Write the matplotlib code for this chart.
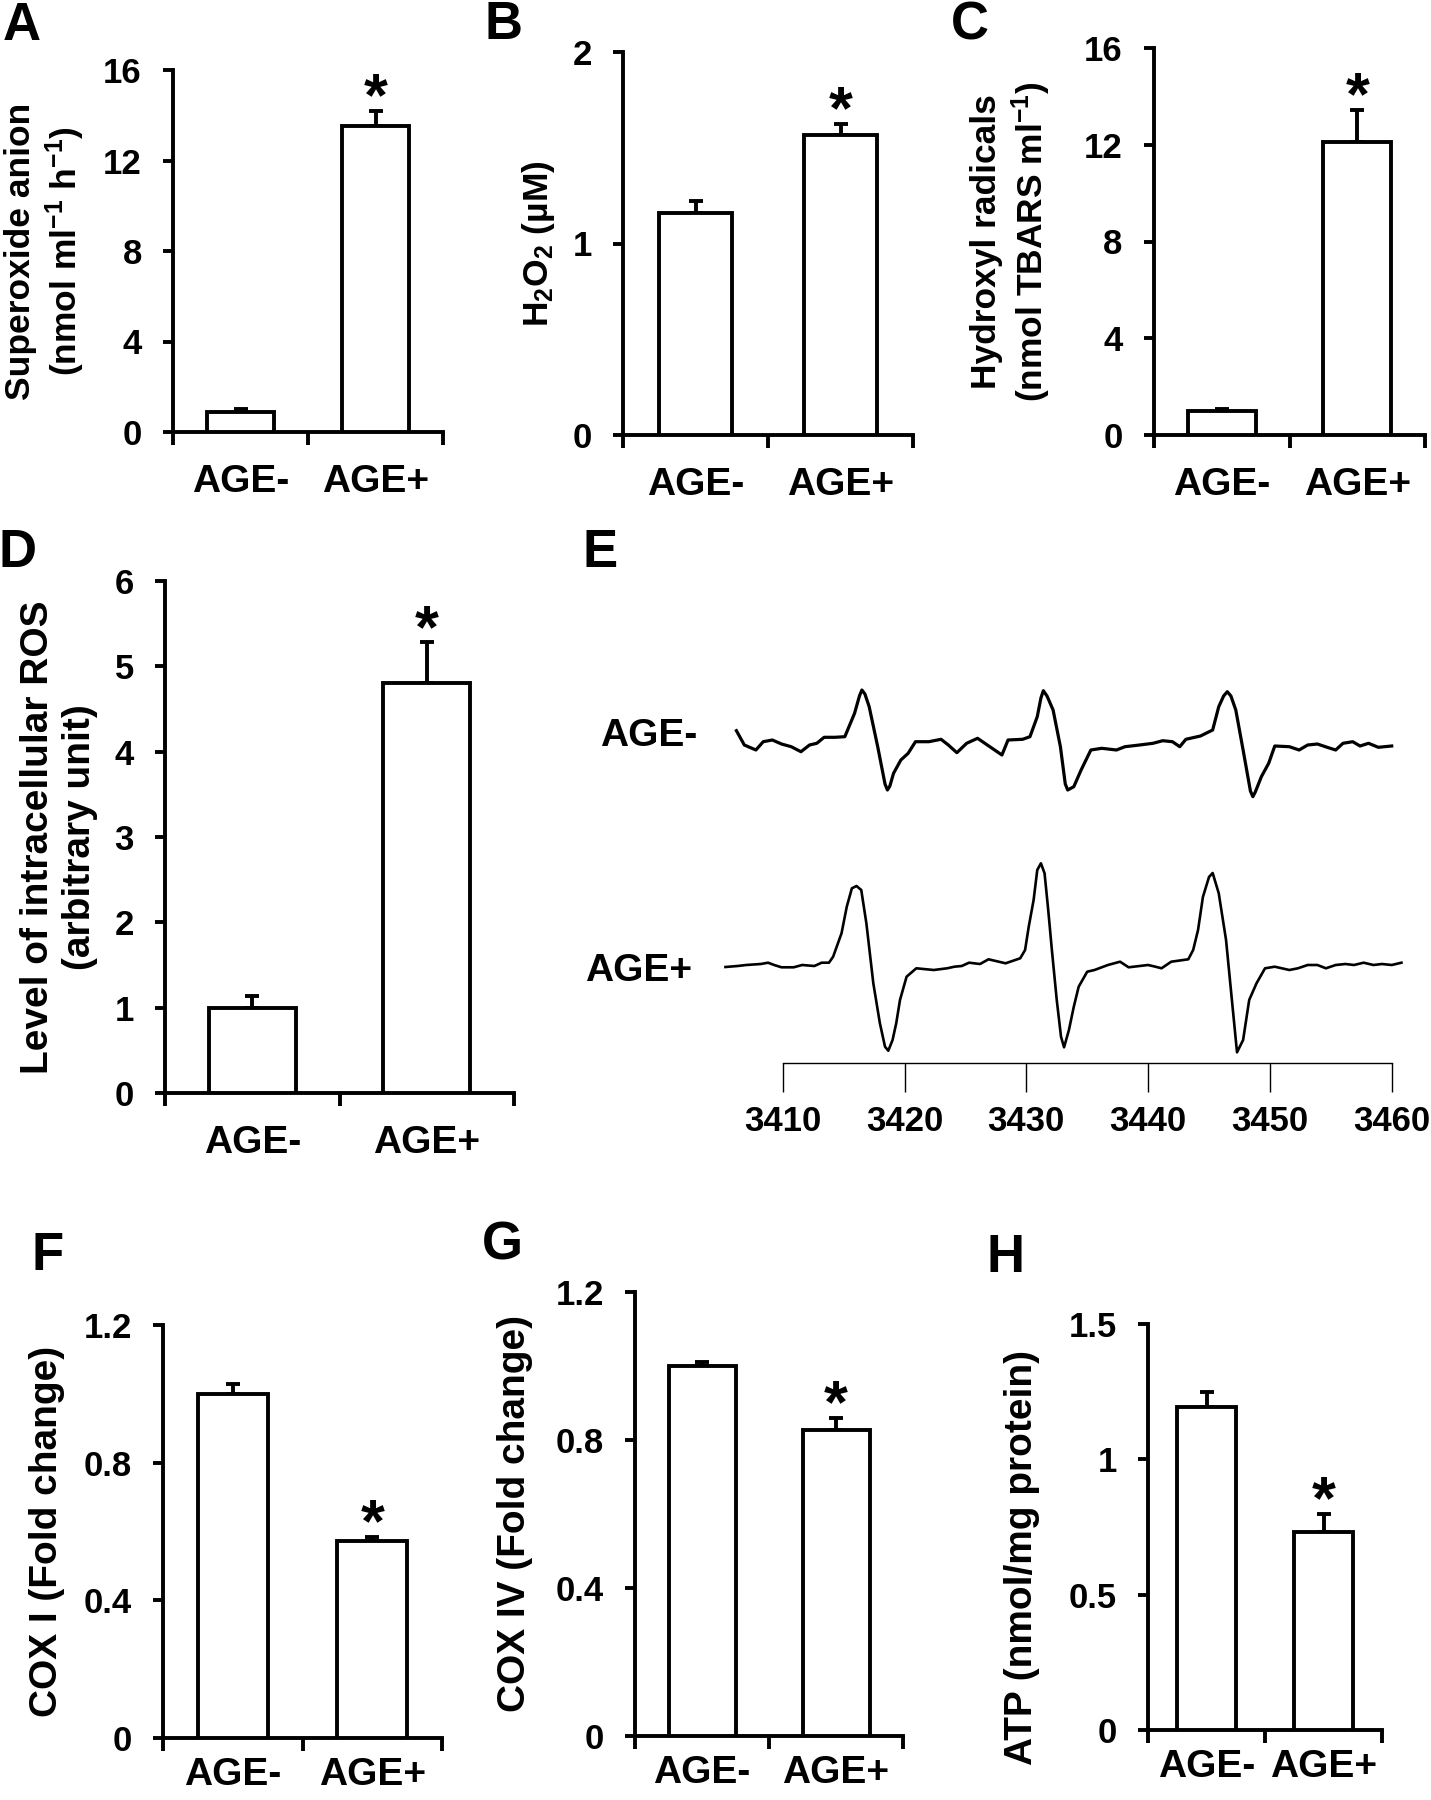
import matplotlib

matplotlib.use('Agg')

import matplotlib.pyplot as plt

W, H = 1431, 1800

CATEGORIES = ['AGE-', 'AGE+']
SIGNIFICANT = [False, True]

# bar panels: mean and upper error
SUPEROXIDE = [0.88, 13.52]
SUPEROXIDE_ERR = [0.12, 0.66]
H2O2 = [1.16, 1.567]
H2O2_ERR = [0.063, 0.057]
HYDROXYL = [0.99, 12.11]
HYDROXYL_ERR = [0.08, 1.33]
ROS = [1.0, 4.81]
ROS_ERR = [0.14, 0.47]
COX1 = [1.0, 0.573]
COX1_ERR = [0.028, 0.012]
COX4 = [1.0, 0.828]
COX4_ERR = [0.01, 0.032]
ATP = [1.194, 0.731]
ATP_ERR = [0.055, 0.066]

TICKS_A = [0, 4, 8, 12, 16]
TICKS_B = [0, 1, 2]
TICKS_C = [0, 4, 8, 12, 16]
TICKS_D = [0, 1, 2, 3, 4, 5, 6]
TICKS_F = [0, 0.4, 0.8, 1.2]
TICKS_G = [0, 0.4, 0.8, 1.2]
TICKS_H = [0, 0.5, 1, 1.5]

# EPR spectra (field in G, signal in arbitrary units)
EPR_FIELD_NEG = [3406.2, 3406.85, 3407.8, 3408.4, 3409.15, 3409.9, 3410.7, 3411.5,
                 3412.2, 3412.8, 3413.4, 3414.3, 3415.1, 3415.9, 3416.3, 3416.5,
                 3416.75, 3417.1, 3417.8, 3418.4, 3418.6, 3418.8, 3419.1, 3419.7,
                 3420.3, 3420.9, 3422.0, 3423.0, 3423.6, 3424.3, 3425.1, 3426.0,
                 3426.8, 3427.4, 3428.0, 3428.5, 3429.7, 3430.3, 3430.9, 3431.2,
                 3431.4, 3431.7, 3432.2, 3432.8, 3433.2, 3433.4, 3433.9, 3434.5,
                 3435.3, 3436.2, 3437.4, 3438.1, 3439.3, 3440.4, 3441.2, 3442.0,
                 3442.6, 3443.1, 3444.3, 3445.3, 3445.8, 3446.2, 3446.5, 3446.8,
                 3447.2, 3447.8, 3448.4, 3448.6, 3448.8, 3449.3, 3449.9, 3450.4,
                 3451.6, 3452.4, 3453.1, 3453.9, 3454.7, 3455.4, 3456.0, 3456.8,
                 3457.4, 3458.1, 3458.9, 3460.0]
EPR_SIGNAL_NEG = [15.3, 1.0, -4.0, 4.3, 6.0, 2.0, -0.7, -5.7,
                  1.0, 2.7, 8.7, 8.7, 9.3, 32.7, 50.0, 56.0,
                  52.0, 39.3, -0.7, -38.0, -44.0, -40.0, -27.3, -14.0,
                  -7.3, 4.3, 4.3, 6.7, 1.0, -6.7, 2.7, 7.7,
                  1.0, -4.0, -9.0, 6.0, 6.7, 9.3, 29.3, 48.0,
                  55.3, 50.0, 36.0, -0.7, -38.0, -44.0, -40.7, -24.0,
                  -4.0, -2.3, -4.0, -0.7, 1.0, 2.7, 5.3, 4.3,
                  -0.7, 6.7, 10.0, 16.0, 39.3, 50.0, 54.3, 50.0,
                  36.0, -4.0, -45.0, -50.7, -46.0, -30.7, -17.3, 0.0,
                  -0.7, -4.0, 1.0, 2.0, -1.3, -4.0, 2.7, 4.3,
                  0.0, 2.7, -1.3, 0.0]

EPR_FIELD_POS = [3405.3, 3406.3, 3407.0, 3408.2, 3408.8, 3409.3, 3409.9, 3410.9,
                 3411.6, 3412.6, 3413.2, 3413.8, 3414.14, 3414.83, 3415.26, 3415.68,
                 3416.06, 3416.45, 3416.87, 3417.44, 3417.98, 3418.4, 3418.67, 3419.02,
                 3419.32, 3419.63, 3420.17, 3420.97, 3422.4, 3423.5, 3424.1, 3424.7,
                 3425.3, 3426.2, 3426.9, 3428.3, 3429.5, 3429.9, 3430.2, 3430.6,
                 3430.9, 3431.2, 3431.5, 3431.8, 3432.1, 3432.5, 3432.85, 3433.1,
                 3433.5, 3433.9, 3434.3, 3435.0, 3435.6, 3436.7, 3437.7, 3438.4,
                 3439.3, 3440.0, 3440.6, 3441.1, 3441.9, 3443.3, 3443.7, 3444.1,
                 3444.5, 3445.0, 3445.3, 3445.8, 3446.4, 3446.8, 3447.3, 3447.8,
                 3448.3, 3448.9, 3449.6, 3450.4, 3451.6, 3452.3, 3453.1, 3453.9,
                 3454.6, 3455.4, 3456.2, 3456.9, 3457.7, 3458.5, 3459.2, 3460.0,
                 3460.8]
EPR_SIGNAL_POS = [-2.0, -1.0, 0.0, 1.0, 2.3, 0.0, -2.3, -2.3,
                  0.0, -1.0, 2.3, 2.3, 8.3, 31.7, 58.3, 76.7,
                  79.0, 75.0, 41.7, -18.3, -58.3, -81.7, -85.7, -75.0,
                  -58.3, -35.0, -11.7, -3.3, -5.0, -3.3, -1.7, -1.0,
                  2.3, 1.0, 5.7, 1.7, 6.7, 15.0, 38.3, 65.0,
                  95.0, 101.7, 91.7, 55.0, 15.0, -35.0, -71.7, -82.3,
                  -65.0, -41.7, -21.7, -6.7, -5.0, 0.0, 3.3, -2.3,
                  -1.0, 0.0, -1.7, -3.3, 3.3, 5.7, 15.0, 35.0,
                  68.0, 88.0, 92.0, 71.7, 25.0, -25.0, -87.3, -75.0,
                  -35.0, -18.3, -3.3, -1.7, -5.0, -3.3, 0.0, 0.0,
                  -3.3, 0.0, 1.0, 0.0, 2.3, 0.0, 1.0, 0.0,
                  2.3]
EPR_TICKS = [3410, 3420, 3430, 3440, 3450, 3460]

plt.rcParams.update({
    'font.family': ['Liberation Sans', 'DejaVu Sans'],
    'font.weight': 'bold',
    'axes.labelweight': 'bold',
    'mathtext.fontset': 'custom',
    'mathtext.rm': 'Liberation Sans:bold',
    'mathtext.it': 'Liberation Sans:bold',
    'mathtext.bf': 'Liberation Sans:bold',
    'mathtext.default': 'rm',
})

LW = 2.8

fig = plt.figure(figsize=(W / 100, H / 100), dpi=100)


def px_axes(left, right, top, bottom):
    return fig.add_axes([left / W, 1 - bottom / H, (right - left) / W,
                         (bottom - top) / H])


def bar_panel(box, values, errors, ticks, ylabel, label_dx, label_fs,
              label_y=0.5, xpad=23):
    left, right, top, bottom = box
    ax = px_axes(left, right, top, bottom)
    x = list(range(len(CATEGORIES)))
    ax.bar(x, values, width=0.5, color='white', edgecolor='black',
           linewidth=LW, zorder=3)
    ax.errorbar(x, values, yerr=[[0] * len(errors), errors], fmt='none',
                ecolor='black', elinewidth=LW, capsize=5, capthick=LW,
                zorder=2)
    for i, sig in enumerate(SIGNIFICANT):
        if sig:
            ax.annotate('*', xy=(i, values[i] + errors[i]), xytext=(0, 8),
                        textcoords='offset points', ha='center', va='center',
                        fontsize=44, fontweight='bold', annotation_clip=False)
    ax.set_xlim(-0.5, len(CATEGORIES) - 0.5)
    ax.set_ylim(ticks[0], ticks[-1])
    ax.set_yticks(ticks)
    ax.set_yticklabels([f'{t:g}' for t in ticks])
    ax.set_xticks([i - 0.5 for i in range(len(CATEGORIES) + 1)])
    ax.set_xticklabels([])
    ax.set_xticks(x, minor=True)
    ax.set_xticklabels(CATEGORIES, minor=True)
    for side in ('top', 'right'):
        ax.spines[side].set_visible(False)
    for side in ('left', 'bottom'):
        ax.spines[side].set_linewidth(LW)
    ax.tick_params(axis='y', direction='out', length=7.5, width=LW, pad=15,
                   labelsize=25)
    ax.tick_params(axis='x', which='major', direction='out', length=9,
                   width=LW)
    ax.tick_params(axis='x', which='minor', length=0, pad=xpad, labelsize=28)
    ax.set_ylabel(ylabel, fontsize=label_fs, linespacing=1.2)
    ax.yaxis.set_label_coords(label_dx / (right - left), label_y)
    return ax


bar_panel((173, 443, 70, 432), SUPEROXIDE, SUPEROXIDE_ERR, TICKS_A,
          'Superoxide anion\n(nmol ml$^{-1}$ h$^{-1}$)', -86, 25.5)
bar_panel((623, 913, 52, 435), H2O2, H2O2_ERR, TICKS_B,
          'H$_2$O$_2$ (µM)', -66, 25.5)
bar_panel((1154, 1425, 48, 435), HYDROXYL, HYDROXYL_ERR, TICKS_C,
          'Hydroxyl radicals\n(nmol TBARS ml$^{-1}$)', -101, 25.5)
bar_panel((165, 514, 581, 1093), ROS, ROS_ERR, TICKS_D,
          'Level of intracellular ROS\n(arbitrary unit)', -67, 28)
bar_panel((163, 442, 1325, 1738), COX1, COX1_ERR, TICKS_F,
          'COX I (Fold change)', -98, 28, xpad=14)
bar_panel((635, 903, 1292, 1736), COX4, COX4_ERR, TICKS_G,
          'COX IV (Fold change)', -102, 28, xpad=14)
bar_panel((1148, 1382, 1324, 1730), ATP, ATP_ERR, TICKS_H,
          'ATP (nmol/mg protein)', -108, 28, label_y=0.424, xpad=14)

# ---- E: EPR spectra ----
ax = px_axes(700, 1431, 640, 1063)
NEG_BASE, POS_BASE = 317, 98
ax.plot(EPR_FIELD_NEG, [NEG_BASE + s for s in EPR_SIGNAL_NEG], color='black',
        lw=2.3, solid_joinstyle='round')
ax.plot(EPR_FIELD_POS, [POS_BASE + s for s in EPR_SIGNAL_POS], color='black',
        lw=1.9, solid_joinstyle='round')
px_per_g = 12.18
ax.set_xlim(3410 - 82.7 / px_per_g, 3410 + (1431 - 782.7) / px_per_g)
ax.set_ylim(0, 423)
for side in ('top', 'right', 'left'):
    ax.spines[side].set_visible(False)
ax.spines['bottom'].set_bounds(EPR_TICKS[0], EPR_TICKS[-1])
ax.spines['bottom'].set_linewidth(1.0)
ax.set_yticks([])
ax.set_xticks(EPR_TICKS)
ax.set_xticklabels([str(t) for t in EPR_TICKS])
ax.tick_params(axis='x', direction='out', length=21, width=1.0, pad=9,
               labelsize=25)
ax.patch.set_alpha(0)

fig.text(649 / W, 1 - 736 / H, 'AGE-', fontsize=28, ha='center', va='center')
fig.text(639 / W, 1 - 971 / H, 'AGE+', fontsize=28, ha='center', va='center')

# panel letters
for letter, (cx, cy) in zip('ABCDEFGH',
                            [(22, 26), (503, 25), (970, 25), (17, 553),
                             (600, 553), (48, 1256), (502, 1246), (1005, 1258)]):
    fig.text(cx / W, 1 - cy / H, letter, fontsize=38, fontweight='bold',
             ha='center', va='center')

fig.savefig('out.png', dpi=100)
